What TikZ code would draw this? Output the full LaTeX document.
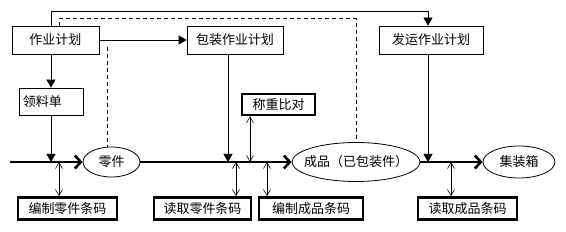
\documentclass[tikz,border=0pt]{standalone}
\usepackage{fontspec}
\setmainfont{Noto Sans CJK SC}
\usetikzlibrary{arrows.meta,calc,shapes.geometric}

\begin{document}
\begin{tikzpicture}[x=1pt,y=-1pt,font=\fontsize{13}{15}\selectfont,
   plan/.style={draw,line width=0.8pt,minimum height=28pt,inner sep=0pt},
   code/.style={draw,line width=2.6pt,minimum height=22pt,inner sep=0pt},
   item/.style={draw,ellipse,line width=0.8pt,inner ysep=0pt,inner xsep=-10pt},
   feed/.style={-{Triangle[length=8pt,width=9pt]},line width=0.8pt},
   flow/.style={-{Straight Barb[length=6pt,width=13pt]},line width=2.6pt},
   scan/.style={{Straight Barb[length=6pt,width=7pt]}-{Straight Barb[length=6pt,width=7pt]},line width=0.6pt},
   link/.style={dashed,dash pattern=on 4pt off 3pt,line width=0.8pt}]
  \useasboundingbox (0,0) rectangle (566,232);
  % plans on top
  \node[plan,minimum width=87pt] (plan) at (55.5,40) {作业计划};
  \node[plan,minimum width=96pt] (pack) at (235,40) {包装作业计划};
  \node[plan,minimum width=104pt] (ship) at (431,40) {发运作业计划};
  \node[plan,minimum width=64pt,minimum height=27pt,text width=56pt,align=left] (pick) at (51,101.5) {领料单};
  \node[code,minimum width=73pt,minimum height=21pt] (weigh) at (278.5,104.5) {称重比对};
  % goods along the main flow
  \coordinate (start) at (10,162);
  \node[item,minimum width=57pt,minimum height=30pt] (part) at (111.5,162) {零件};
  \node[item,minimum width=128pt,minimum height=39pt] (prod) at (356,162) {成品（已包装件）};
  \node[item,minimum width=72pt,minimum height=32pt] (crate) at (519,162) {集装箱};
  % barcode steps below
  \node[code,minimum width=99pt] (code1) at (67.5,208.5) {编制零件条码};
  \node[code,minimum width=97pt] (read1) at (202.5,208.5) {读取零件条码};
  \node[code,minimum width=104pt] (code2) at (311,208.5) {编制成品条码};
  \node[code,minimum width=99pt] (read2) at (467.5,208.5) {读取成品条码};
  \draw[flow] (start) -- (part);
  \draw[flow] (part) -- (prod);
  \draw[flow] (prod) -- (crate);
  % plan links
  \draw[feed] (plan) -- (pack);
  \draw[feed] (pick.north |- plan.south) -- (pick.north);
  \draw[feed] (pick) -- (pick |- start);
  \draw[feed] ([xshift=-7pt]pack.south) -- ([xshift=-7pt]pack.south |- start);
  \draw[feed] ([xshift=-3pt]ship.south) -- ([xshift=-3pt]ship.south |- start);
  \draw[feed] (pick.north |- plan.north) -- ++(0,-14) -| ([xshift=-3pt]ship.north);
  \draw[link] ([xshift=3.5pt]plan.north) -- ++(0,-7) -| (prod.north);
  \coordinate (pk) at (107,47);
  \draw[link] (pk) -- (pk |- part.north);
  % scanning points on the flow
  \coordinate (t1) at (59,162);
  \coordinate (t2) at (236,162);
  \coordinate (t3) at (250,162);
  \coordinate (t4) at (267,162);
  \coordinate (t5) at (451,162);
  \draw[scan] (t1) -- (t1 |- code1.north);
  \draw[scan] (t2) -- (t2 |- read1.north);
  \draw[scan] (t3) -- (t3 |- weigh.south);
  \draw[scan] (t4) -- (t4 |- code2.north);
  \draw[scan] (t5) -- (t5 |- read2.north);
\end{tikzpicture}
\end{document}
